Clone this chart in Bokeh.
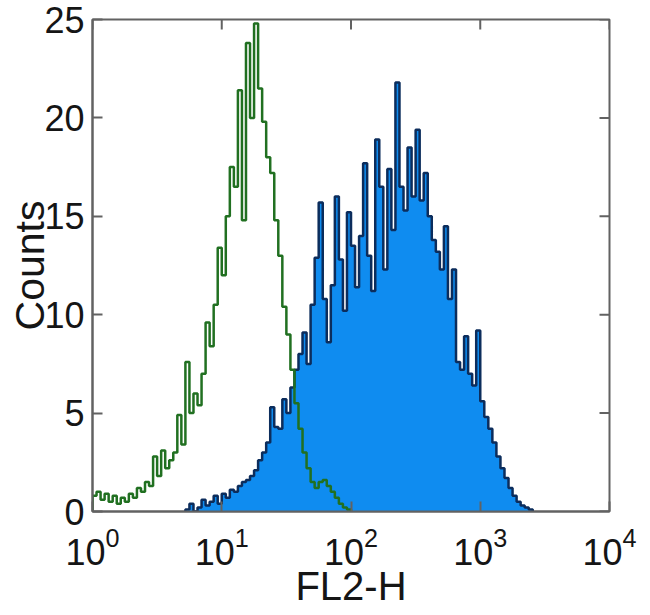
import numpy as np
from bokeh.plotting import figure
from bokeh.models import Range1d, FixedTicker, LogTickFormatter
from bokeh.embed import file_html
from bokeh.resources import INLINE

# ---- data ----
bin_width_exp = 0.03125          # width of one channel group, in decades
x_ticks = [1, 10, 100, 1000, 10000]
y_ticks = [0, 5, 10, 15, 20, 25]

# isotype control (green outline), starting at 10^0
green_start_bin = 0
green_counts = [0.8, 1.0, 0.6, 0.9, 0.5, 0.8, 0.4, 0.7, 0.5, 0.9,
                0.7, 1.2, 1.0, 1.5, 1.3, 2.8, 1.8, 3.1, 2.2, 2.6,
                3.0, 4.9, 3.4, 7.6, 5.0, 6.0, 5.4, 7.0, 9.6, 8.4,
                10.5, 13.4, 12.0, 15.0, 17.5, 16.5, 21.4, 14.8, 23.8, 20.0,
                24.8, 21.5, 19.8, 18.0, 17.2, 14.8, 13.0, 10.4, 9.0, 7.2,
                5.5, 4.2, 3.0, 2.2, 1.5, 1.2, 1.5, 1.6, 1.3, 1.0,
                0.7, 0.4, 0.2, 0.1]

# stained sample (blue filled)
blue_start_bin = 23
blue_counts = [0.1, 0.4, 0.0, 0.2, 0.6, 0.3, 0.5,
               0.8, 0.4, 0.9, 0.7, 1.1, 1.0, 1.3, 1.5, 1.6, 1.8,
               2.1, 2.6, 3.0, 3.5, 5.3, 4.3, 4.2, 5.7, 5.0, 6.3,
               7.2, 8.0, 9.1, 7.5, 10.5, 12.9, 15.7, 10.8, 8.6, 11.5,
               16.0, 12.8, 10.2, 15.2, 13.5, 11.4, 14.0, 17.7, 13.0, 11.2,
               18.9, 16.5, 12.3, 17.4, 14.3, 21.8, 16.5, 15.3, 18.5, 16.0,
               19.4, 15.8, 17.2, 15.0, 13.8, 13.2, 12.3, 14.5, 10.8, 12.3,
               7.6, 7.2, 8.9, 7.0, 6.4, 9.2, 5.6, 4.8, 4.2, 3.5,
               2.8, 2.2, 1.7, 1.2, 0.8, 0.5, 0.3, 0.2, 0.1]


def step_xy(start_bin, counts):
    xs, ys = [], []
    for k, c in enumerate(counts):
        lo = 10 ** ((start_bin + k) * bin_width_exp)
        hi = 10 ** ((start_bin + k + 1) * bin_width_exp)
        xs += [lo, hi]
        ys += [c, c]
    xs = [xs[0]] + xs + [xs[-1]]
    ys = [0.0] + ys + [0.0]
    return xs, ys


AXIS_GREY = "#626262"
FONT = "Liberation Sans"
x_lo, x_hi = x_ticks[0], x_ticks[-1]
y_lo, y_hi = y_ticks[0], y_ticks[-1]

p = figure(width=650, height=615, x_axis_type="log",
           x_range=Range1d(x_lo, x_hi), y_range=Range1d(y_lo, y_hi),
           output_backend="svg", toolbar_location=None,
           min_border_left=92, min_border_right=41,
           min_border_top=19, min_border_bottom=104,
           background_fill_color="white", border_fill_color="white",
           outline_line_color=AXIS_GREY, outline_line_width=2)
p.xgrid.visible = False
p.ygrid.visible = False

bx, by = step_xy(blue_start_bin, blue_counts)
p.patch(bx, by, fill_color="#0f8cf0", line_color=None)
p.line(bx, by, line_color="#0c2d5c", line_width=2.5)

gx, gy = step_xy(green_start_bin, green_counts)
p.line(gx, gy, line_color="#217021", line_width=2.5)

# inward ticks on the top and right edges of the box
p.ray(x=x_ticks, y=[y_hi] * len(x_ticks), length=10, length_units="screen",
      angle=-np.pi / 2, line_color=AXIS_GREY, line_width=2)
p.ray(x=[x_hi] * len(y_ticks), y=y_ticks, length=10, length_units="screen",
      angle=np.pi, line_color=AXIS_GREY, line_width=2)

xax = p.below[0]
yax = p.left[0]
xax.ticker = FixedTicker(ticks=x_ticks)
xax.formatter = LogTickFormatter()
yax.ticker = FixedTicker(ticks=y_ticks)

for ax in [xax, yax]:
    ax.axis_line_color = AXIS_GREY
    ax.axis_line_width = 2
    ax.major_tick_line_color = AXIS_GREY
    ax.major_tick_line_width = 2
    ax.major_tick_in = 10
    ax.major_tick_out = 0
    ax.minor_tick_line_color = None
    ax.major_label_text_font = FONT
    ax.major_label_text_color = "#151515"
    ax.axis_label_text_font = FONT
    ax.axis_label_text_font_style = "normal"
    ax.axis_label_text_color = "#151515"

xax.major_label_text_font_size = "36px"
xax.major_label_standoff = 15
xax.axis_label = "FL2-H"
xax.axis_label_text_font_size = "40px"
xax.axis_label_standoff = -4

yax.major_label_text_font_size = "36px"
yax.major_label_standoff = 8
yax.axis_label = "Counts"
yax.axis_label_text_font_size = "41px"
yax.axis_label_standoff = -12

open("out.html", "w").write(file_html(p, INLINE))
